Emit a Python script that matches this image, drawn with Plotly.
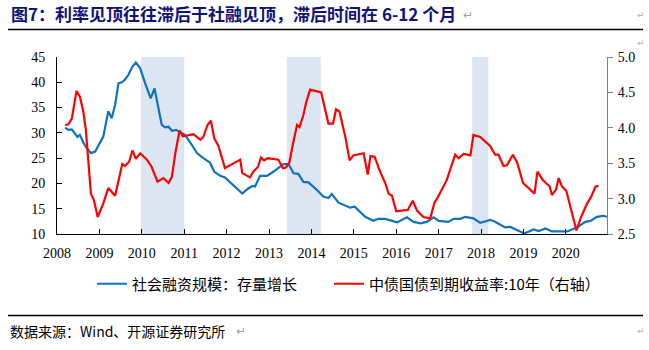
import plotly.graph_objects as go

# ---- data ----
tsf_years = [2008.19, 2008.27, 2008.35, 2008.42, 2008.48, 2008.54, 2008.62, 2008.70, 2008.80, 2008.90,
             2008.97, 2009.09, 2009.21, 2009.29, 2009.37, 2009.45, 2009.53, 2009.60, 2009.68, 2009.78,
             2009.86, 2009.96, 2010.08, 2010.21, 2010.30, 2010.37, 2010.47, 2010.55, 2010.63, 2010.71,
             2010.81, 2010.90, 2011.02, 2011.18, 2011.30, 2011.45, 2011.61, 2011.71, 2011.85, 2011.96,
             2012.08, 2012.24, 2012.37, 2012.51, 2012.61, 2012.67, 2012.79, 2012.95, 2013.10, 2013.34,
             2013.46, 2013.58, 2013.69, 2013.81, 2013.93, 2014.13, 2014.28, 2014.40, 2014.48, 2014.64,
             2014.76, 2014.91, 2015.02, 2015.15, 2015.27, 2015.46, 2015.58, 2015.74, 2016.02, 2016.25,
             2016.41, 2016.57, 2016.72, 2016.88, 2017.00, 2017.23, 2017.35, 2017.51, 2017.63, 2017.82,
             2017.98, 2018.22, 2018.33, 2018.57, 2018.69, 2018.92, 2019.02, 2019.24, 2019.36, 2019.52,
             2019.67, 2020.03, 2020.26, 2020.46, 2020.58, 2020.73, 2020.88, 2020.97]
tsf_growth = [31.0, 30.6, 30.7, 29.9, 29.2, 29.6, 28.1, 27.0, 26.0, 26.3,
              27.3, 29.2, 34.3, 32.9, 35.5, 39.8, 40.0, 40.5, 41.4, 43.1,
              43.9, 42.8, 39.8, 36.8, 38.8, 35.8, 31.6, 31.1, 31.2, 30.4,
              30.6, 30.1, 29.6, 27.6, 26.0, 25.0, 24.1, 22.3, 21.5, 21.2,
              20.3, 19.0, 18.0, 19.0, 19.5, 19.4, 21.5, 21.5, 22.3, 23.8,
              23.8, 22.0, 21.9, 20.3, 20.2, 18.7, 17.4, 17.1, 17.9, 16.2,
              15.7, 15.2, 15.4, 14.4, 13.4, 12.6, 13.0, 13.0, 12.3, 13.3,
              12.4, 12.1, 12.4, 13.3, 12.6, 12.4, 13.0, 13.0, 13.4, 13.1,
              12.2, 12.8, 12.4, 11.3, 11.4, 10.5, 10.1, 10.9, 10.6, 11.1,
              10.5, 10.5, 11.3, 12.4, 12.6, 13.4, 13.6, 13.4]

bond_years = [2008.19, 2008.27, 2008.35, 2008.46, 2008.54, 2008.62, 2008.68, 2008.80, 2008.87, 2008.96,
              2009.09, 2009.21, 2009.37, 2009.54, 2009.60, 2009.70, 2009.78, 2009.86, 2009.96, 2010.12,
              2010.23, 2010.37, 2010.51, 2010.63, 2010.71, 2010.79, 2010.89, 2010.97, 2011.22, 2011.38,
              2011.45, 2011.55, 2011.63, 2011.71, 2011.81, 2011.96, 2012.32, 2012.37, 2012.55, 2012.63,
              2012.74, 2012.81, 2012.88, 2012.97, 2013.22, 2013.33, 2013.40, 2013.48, 2013.56, 2013.66,
              2013.72, 2013.81, 2013.88, 2013.97, 2014.23, 2014.32, 2014.40, 2014.51, 2014.58, 2014.66,
              2014.80, 2014.90, 2014.99, 2015.23, 2015.33, 2015.39, 2015.49, 2015.62, 2015.74, 2015.82,
              2015.90, 2016.00, 2016.27, 2016.39, 2016.49, 2016.64, 2016.80, 2016.90, 2016.99, 2017.19,
              2017.29, 2017.39, 2017.47, 2017.59, 2017.75, 2017.82, 2017.98, 2018.22, 2018.33, 2018.41,
              2018.53, 2018.61, 2018.75, 2018.85, 2018.99, 2019.26, 2019.33, 2019.46, 2019.62, 2019.67,
              2019.77, 2019.83, 2019.91, 2020.01, 2020.25, 2020.36, 2020.50, 2020.60, 2020.70, 2020.77]
bond_yield = [4.04, 4.05, 4.13, 4.52, 4.44, 4.23, 3.97, 3.07, 2.98, 2.74,
              2.93, 3.15, 3.04, 3.49, 3.46, 3.52, 3.68, 3.56, 3.64, 3.55,
              3.45, 3.24, 3.29, 3.22, 3.31, 3.64, 3.96, 3.88, 3.91, 3.83,
              3.87, 4.04, 4.10, 3.85, 3.74, 3.43, 3.55, 3.36, 3.30, 3.38,
              3.45, 3.58, 3.54, 3.57, 3.55, 3.43, 3.44, 3.51, 3.76, 4.04,
              4.01, 4.18, 4.37, 4.54, 4.50, 4.28, 4.06, 4.06, 4.26, 4.23,
              3.87, 3.54, 3.61, 3.64, 3.34, 3.60, 3.59, 3.38, 3.22, 3.07,
              3.04, 2.82, 2.84, 2.97, 2.83, 2.74, 2.72, 2.94, 3.03, 3.26,
              3.43, 3.62, 3.57, 3.63, 3.61, 3.90, 3.87, 3.74, 3.62, 3.62,
              3.46, 3.47, 3.62, 3.51, 3.22, 3.07, 3.38, 3.26, 3.17, 3.05,
              3.13, 3.29, 3.17, 3.11, 2.55, 2.74, 2.93, 3.03, 3.17, 3.18]

shade_start = [2009.98, 2013.42, 2017.79]
shade_end = [2011.00, 2014.22, 2018.17]

year_ticks = list(range(2008, 2021))
left_ticks = [10, 15, 20, 25, 30, 35, 40, 45]
right_ticks = [2.5, 3.0, 3.5, 4.0, 4.5, 5.0]

title_text = "图7：利率见顶往往滞后于社融见顶，滞后时间在 6-12 个月"
source_text = "数据来源：Wind、开源证券研究所"
name_tsf = "社会融资规模：存量增长"
name_bond = "中债国债到期收益率:10年（右轴）"

# ---- layout geometry (pixels) ----
W, H = 649, 350
L, R, T, B = 57, 607, 57, 234
PW, PH = R - L, B - T


def px(x):
    return (x - L) / PW


def py(y):
    return (B - y) / PH


CJK = "Noto Sans CJK SC"
SERIF = "Liberation Serif"

fig = go.Figure()
fig.add_trace(go.Scatter(x=tsf_years, y=tsf_growth, name=name_tsf, mode="lines",
                         line=dict(color="#0F72C0", width=2.2), yaxis="y", legend="legend"))
fig.add_trace(go.Scatter(x=bond_years, y=bond_yield, name=name_bond, mode="lines",
                         line=dict(color="#FF0000", width=2.2), yaxis="y2", legend="legend2"))

for s, e in zip(shade_start, shade_end):
    fig.add_shape(type="rect", xref="x", yref="paper", x0=s, x1=e, y0=0, y1=1,
                  fillcolor="#DCE6F2", line=dict(width=0), layer="below")

# rule lines above the chart and above the source
for yline in (29.5, 315.5):
    fig.add_shape(type="line", xref="paper", yref="paper", x0=px(8), x1=px(643),
                  y0=py(yline), y1=py(yline), line=dict(color="black", width=1.3))

fig.add_annotation(xref="paper", yref="paper", x=px(9), y=py(14), xanchor="left", yanchor="middle",
                   text="<b>" + title_text + "</b>", showarrow=False,
                   font=dict(family=CJK, size=17, color="#10107A"))
fig.add_annotation(xref="paper", yref="paper", x=px(461), y=py(15), xanchor="left", yanchor="middle",
                   text="↵", showarrow=False, font=dict(family="DejaVu Sans", size=12, color="#A0A0A0"))
fig.add_annotation(xref="paper", yref="paper", x=px(8), y=py(331), xanchor="left", yanchor="middle",
                   text=source_text, showarrow=False, font=dict(family=CJK, size=14, color="black"))
fig.add_annotation(xref="paper", yref="paper", x=px(234), y=py(331), xanchor="left", yanchor="middle",
                   text="↵", showarrow=False, font=dict(family="DejaVu Sans", size=12, color="#A0A0A0"))
for yy in (15, 43, 331):
    fig.add_annotation(xref="paper", yref="paper", x=px(635), y=py(yy), xanchor="left", yanchor="middle",
                       text="↵", showarrow=False, font=dict(family="DejaVu Sans", size=9, color="#B0B0B0"))

legend_common = dict(orientation="h", xref="paper", yref="paper", yanchor="middle",
                     font=dict(family=CJK, size=15, color="black"), bgcolor="rgba(0,0,0,0)",
                     itemwidth=30)

fig.update_layout(
    width=W, height=H,
    margin=dict(l=L, r=W - R, t=T, b=H - B, pad=0),
    paper_bgcolor="white", plot_bgcolor="white",
    showlegend=True,
    legend=dict(x=px(92), y=py(284), xanchor="left", **legend_common),
    legend2=dict(x=px(329), y=py(284), xanchor="left", **legend_common),
    xaxis=dict(range=[2008, 2020.97], tickvals=year_ticks, ticktext=[str(y) for y in year_ticks],
               ticks="inside", ticklen=5, tickcolor="black", showline=True, linecolor="black",
               linewidth=1, showgrid=False, zeroline=False,
               tickfont=dict(family=SERIF, size=14, color="black"), ticklabelstandoff=6),
    yaxis=dict(range=[10, 45], tickvals=left_ticks, ticks="inside", ticklen=5, tickcolor="black",
               showline=True, linecolor="black", linewidth=1, showgrid=False, zeroline=False,
               tickfont=dict(family=SERIF, size=14, color="black"), ticklabelstandoff=8),
    yaxis2=dict(range=[2.5, 5.0], tickvals=right_ticks, tickformat=".1f", overlaying="y", side="right",
                ticks="outside", ticklen=5, tickcolor="#808080", showline=True, linecolor="#808080",
                linewidth=1, showgrid=False, zeroline=False,
                tickfont=dict(family=SERIF, size=14, color="black"), ticklabelstandoff=2),
)

fig.write_html("out.html")
